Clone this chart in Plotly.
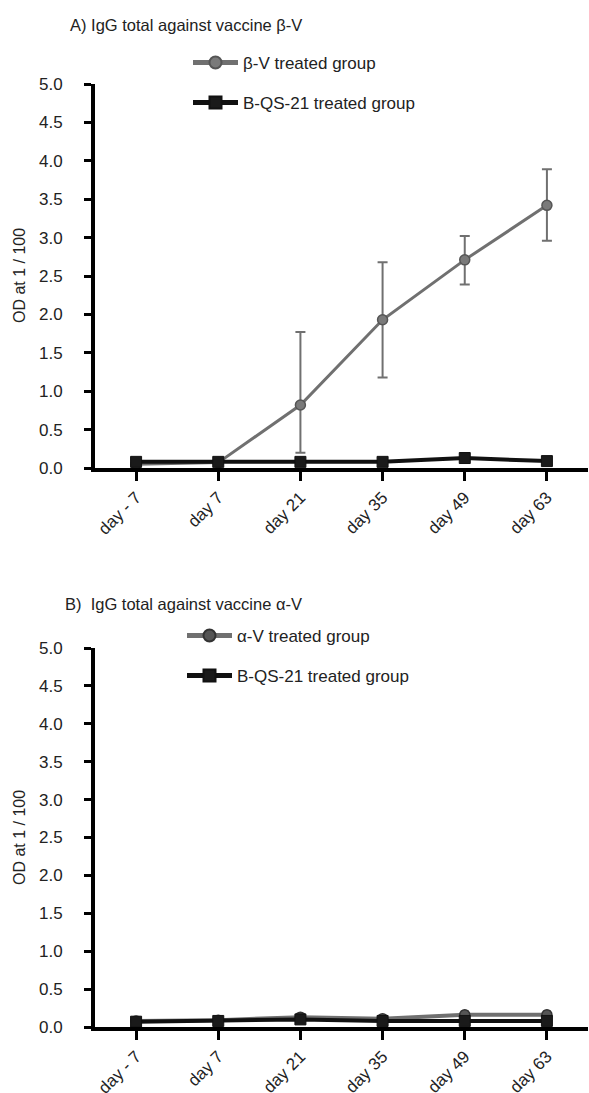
import plotly.graph_objects as go

days = ["day - 7", "day 7", "day 21", "day 35", "day 49", "day 63"]

# Panel A
beta_v = [0.05, 0.07, 0.82, 1.93, 2.71, 3.42]
beta_v_err_plus = [0.0, 0.0, 0.95, 0.75, 0.31, 0.47]
beta_v_err_minus = [0.0, 0.0, 0.62, 0.75, 0.32, 0.46]
bqs21_a = [0.08, 0.08, 0.08, 0.08, 0.13, 0.09]

# Panel B
alpha_v = [0.08, 0.09, 0.13, 0.11, 0.16, 0.16]
alpha_v_err = [0.02, 0.02, 0.03, 0.03, 0.04, 0.04]
bqs21_b = [0.07, 0.08, 0.10, 0.08, 0.08, 0.08]

yticks = [0.0, 0.5, 1.0, 1.5, 2.0, 2.5, 3.0, 3.5, 4.0, 4.5, 5.0]

W, H = 589, 1093
FONT = "Liberation Sans, Arial, sans-serif"
GRAY = "#707070"
BLACK = "#111111"
TXT = "#222222"

def py(p):
    return 1 - p / H

fig = go.Figure()

fig.add_trace(go.Scatter(
    x=days, y=beta_v, mode="lines+markers", name="β-V treated group",
    line=dict(color=GRAY, width=3),
    marker=dict(symbol="circle", size=10, color="#7a7a7a", line=dict(color="#555555", width=1.5)),
    error_y=dict(type="data", array=beta_v_err_plus, arrayminus=beta_v_err_minus,
                 color=GRAY, thickness=2, width=5),
    xaxis="x", yaxis="y", legend="legend"))
fig.add_trace(go.Scatter(
    x=days, y=bqs21_a, mode="lines+markers", name="B-QS-21 treated group",
    line=dict(color=BLACK, width=4),
    marker=dict(symbol="square", size=11, color="#1a1a1a", line=dict(color=BLACK, width=1)),
    xaxis="x", yaxis="y", legend="legend2"))

fig.add_trace(go.Scatter(
    x=days, y=alpha_v, mode="lines+markers", name="α-V treated group",
    line=dict(color=GRAY, width=4),
    marker=dict(symbol="circle", size=10, color="#555555", line=dict(color="#333333", width=1.5)),
    error_y=dict(type="data", array=alpha_v_err, color=GRAY, thickness=3, width=4),
    xaxis="x2", yaxis="y2", legend="legend3"))
fig.add_trace(go.Scatter(
    x=days, y=bqs21_b, mode="lines+markers", name="B-QS-21 treated group",
    line=dict(color=BLACK, width=4),
    marker=dict(symbol="square", size=11, color="#1a1a1a", line=dict(color=BLACK, width=1)),
    xaxis="x2", yaxis="y2", legend="legend4"))

xax = dict(type="category", range=[-0.5, 5.5], showline=True, linecolor="black", linewidth=4,
           ticks="outside", ticklen=9, tickwidth=3, tickcolor="black", tickangle=-45,
           tickfont=dict(family=FONT, size=17, color=TXT), showgrid=False, zeroline=False,
           automargin=False, fixedrange=True)
yax = dict(range=[0, 5.0], tickvals=yticks, ticktext=[f"{v:.1f}" for v in yticks],
           showline=True, linecolor="black", linewidth=4, ticks="outside", ticklen=7,
           tickwidth=3, tickcolor="black", tickfont=dict(family=FONT, size=17, color=TXT),
           ticklabelstandoff=18,
           showgrid=False, zeroline=False, automargin=False, fixedrange=True)

def leg(xp, yp):
    return dict(x=xp / W, y=py(yp), xanchor="left", yanchor="middle", bgcolor="rgba(0,0,0,0)",
                font=dict(family=FONT, size=17, color=TXT), itemsizing="constant", itemwidth=45,
                borderwidth=0)

xd = [95 / W, 588 / W]
fig.update_layout(
    width=W, height=H, margin=dict(l=0, r=0, t=0, b=0, autoexpand=False),
    paper_bgcolor="white", plot_bgcolor="white", showlegend=True,
    xaxis=dict(xax, domain=xd, anchor="y"),
    yaxis=dict(yax, domain=[py(468), py(84)], anchor="x"),
    xaxis2=dict(xax, domain=xd, anchor="y2"),
    yaxis2=dict(yax, domain=[py(1027), py(648)], anchor="x2"),
    legend=leg(188, 63),
    legend2=leg(188, 103),
    legend3=leg(182, 636),
    legend4=leg(182, 676),
    annotations=[
        dict(text="A) IgG total against vaccine β-V", x=68 / W, y=py(25), xref="paper", yref="paper",
             xanchor="left", yanchor="middle", showarrow=False,
             font=dict(family=FONT, size=16.5, color=TXT)),
        dict(text="B)  IgG total against vaccine α-V", x=63 / W, y=py(604), xref="paper", yref="paper",
             xanchor="left", yanchor="middle", showarrow=False,
             font=dict(family=FONT, size=16.5, color=TXT)),
        dict(text="OD at 1 / 100", x=19 / W, y=py(276), xref="paper", yref="paper",
             xanchor="center", yanchor="middle", textangle=-90, showarrow=False,
             font=dict(family=FONT, size=16, color=TXT)),
        dict(text="OD at 1 / 100", x=19 / W, y=py(838), xref="paper", yref="paper",
             xanchor="center", yanchor="middle", textangle=-90, showarrow=False,
             font=dict(family=FONT, size=16, color=TXT)),
    ],
)

fig.write_html("out.html")
